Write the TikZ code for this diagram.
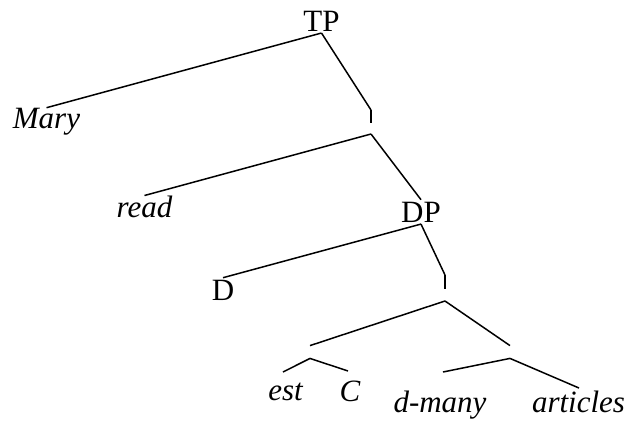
\documentclass[tikz,border=0pt]{standalone}
\usepackage{fontspec}
\setmainfont{Liberation Serif}
\usetikzlibrary{positioning}

\begin{document}
\begin{tikzpicture}[
    x=0.5pt,y=-0.5pt,
    cat/.style={inner sep=0pt,outer sep=1pt,anchor=base,font=\fontsize{15.5}{18}\selectfont},
    lex/.style={cat,outer sep=0pt,font=\fontsize{15.5}{18}\selectfont\itshape},
    hole/.style={inner sep=0pt,minimum width=0pt,minimum height=6pt},
    branch/.style={line width=0.75pt},
    bar/.style={line width=1.4pt}
  ]
  \useasboundingbox (0,0) rectangle (629,420);
  % labels
  \node[cat] (tp)   at (321.5,31) {TP};
  \node[lex] (mary) at (46.5,128) {Mary};
  \node[lex] (read) at (144.5,217) {read};
  \node[cat] (dp)   at (421,222) {DP};
  \node[cat] (d)    at (223,300) {D};
  \node[lex] (est)  at (285.5,400) {est};
  \node[lex] (c)    at (350,401) {C};
  \node[lex] (dmany) at (440,412) {d-many};
  \node[lex] (art)  at (578.5,412) {articles};
  % unlabelled nodes
  \coordinate (ibar1t) at (371,110);
  \coordinate (ibar1b) at (371,123);
  \coordinate (ibar1)  at (371,134);
  \coordinate (ibar2t) at (445,275);
  \coordinate (ibar2b) at (445,289);
  \coordinate (ibar2)  at (445,301);
  \node[hole] (estc)  at (310,352) {};
  \node[hole] (dmart) at (510,352) {};
  % leaf ends
  \coordinate (est-t)   at (283,372);
  \coordinate (c-t)     at (348,371);
  \coordinate (dmany-t) at (443,372);
  \coordinate (art-t)   at (579,388);
  % branches
  \draw[branch] (tp.south) -- (mary.north);
  \draw[branch] (tp.south) -- (ibar1t);
  \draw[bar] (ibar1t) -- (ibar1b);
  \draw[branch] (ibar1) -- (read.north);
  \draw[branch] (ibar1) -- (dp.north);
  \draw[branch] (dp.south) -- (d.north);
  \draw[branch] (dp.south) -- (ibar2t);
  \draw[bar] (ibar2t) -- (ibar2b);
  \draw[branch] (ibar2) -- (estc.north);
  \draw[branch] (ibar2) -- (dmart.north);
  \draw[branch] (estc.south) -- (est-t);
  \draw[branch] (estc.south) -- (c-t);
  \draw[branch] (dmart.south) -- (dmany-t);
  \draw[branch] (dmart.south) -- (art-t);
\end{tikzpicture}
\end{document}
